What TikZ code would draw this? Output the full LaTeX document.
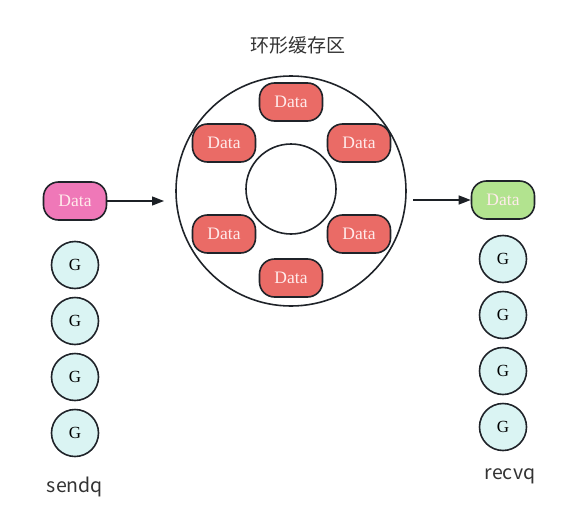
\documentclass[tikz,border=0pt]{standalone}
\usepackage{fontspec}
\setmainfont{Liberation Serif}
\newfontfamily\cjk{Noto Sans CJK SC}
\usetikzlibrary{arrows.meta}
\definecolor{edge}{HTML}{1F2329}
\definecolor{redfill}{HTML}{EA6B66}
\definecolor{pinkfill}{HTML}{EF78B8}
\definecolor{greenfill}{HTML}{B2E38F}
\definecolor{cyanfill}{HTML}{DAF4F3}
\definecolor{txt}{HTML}{333333}
\tikzset{
  databox/.style={draw=edge, line width=1.6pt, rounded corners=15pt, minimum width=63pt, minimum height=38pt, inner sep=0pt, text=white!92!red, font=\fontsize{17.5}{18}\selectfont},
  gnode/.style={circle, draw=edge, line width=1.6pt, fill=cyanfill, minimum size=47pt, inner sep=0pt, font=\fontsize{17}{18}\selectfont, text=black},
  ring/.style={circle, draw=edge, line width=1.6pt, inner sep=0pt},
  conn/.style={draw=edge!90!black, line width=1.3pt, -{Triangle[length=12pt,width=9pt]}},
  label/.style={font=\cjk\fontsize{19.5}{21}\selectfont, text=txt}
}
\begin{document}
\begin{tikzpicture}[x=1pt,y=-1pt]
\useasboundingbox (0,0) rectangle (586,530);
\node[label, font=\cjk\fontsize{19}{20}\selectfont] (title) at (298,45) {环形缓存区};
\node[ring, minimum size=230pt] (outer) at (291,191) {};
\node[ring, minimum size=90pt] (inner) at (291,189) {};
\node[databox, fill=redfill] (d1) at (291,102) {Data};
\node[databox, fill=redfill] (d2) at (224,143) {Data};
\node[databox, fill=redfill] (d3) at (359,143) {Data};
\node[databox, fill=redfill] (d4) at (224,234) {Data};
\node[databox, fill=redfill] (d5) at (359,234) {Data};
\node[databox, fill=redfill] (d6) at (291,278) {Data};
\node[databox, fill=pinkfill] (sd) at (75,201) {Data};
\node[databox, fill=greenfill] (rd) at (503,200) {Data};
\coordinate (sin) at (164,201);
\coordinate (rout) at (413,200);
\draw[conn] (sd.east) -- (sin);
\draw[conn] (rout) -- (rd.west);
\node[gnode] (s1) at (75,265) {G};
\node[gnode] (s2) at (75,321) {G};
\node[gnode] (s3) at (75,377) {G};
\node[gnode] (s4) at (75,433) {G};
\node[gnode] (r1) at (503,259) {G};
\node[gnode] (r2) at (503,315) {G};
\node[gnode] (r3) at (503,371) {G};
\node[gnode] (r4) at (503,427) {G};
\node[label] (sendq) at (75,487) {sendq};
\node[label] (recvq) at (510,476) {recvq};
\end{tikzpicture}
\end{document}
